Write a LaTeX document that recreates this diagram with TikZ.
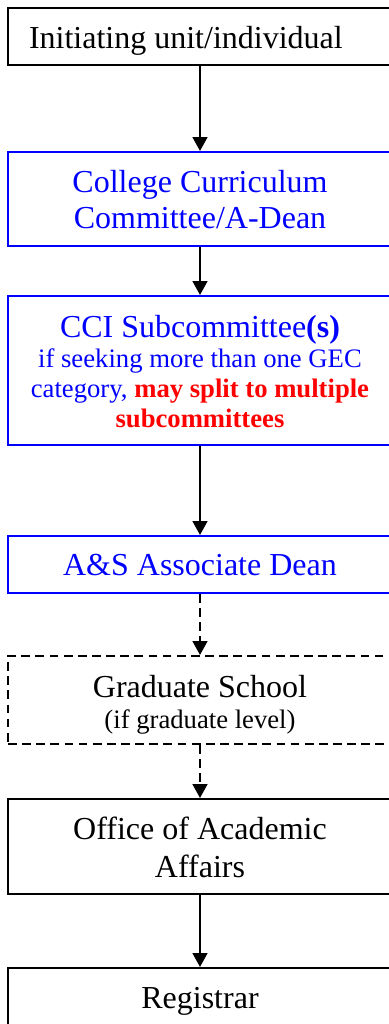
\documentclass[tikz,border=0pt]{standalone}
\usepackage{fontspec}
\setmainfont{Liberation Serif}
\usetikzlibrary{arrows.meta}

\begin{document}
\begin{tikzpicture}[x=0.375pt, y=-0.375pt, line width=0.75pt,
	>={Triangle[width=5.6pt,length=5.25pt]},
	stage/.style={draw, rectangle, inner sep=0pt, minimum width=144pt},
	blustage/.style={stage, draw=blue},
	optstage/.style={stage, dash pattern=on 3.3pt off 2pt},
	txt/.style={inner sep=0pt, align=center, font=\fontsize{12}{13.5}\selectfont},
	small/.style={font=\fontsize{10}{11.25}\selectfont}]

\def\midx{200}

% \stage{name}{top}{bottom}{style}
\newcommand*{\stage}[4]{
	\node [#4, minimum height={(#3-#2)*0.375pt}] (#1) at (\midx, {(#2+#3)/2}) {};
}

\useasboundingbox (0,0) rectangle (388,1024);

	\stage{init}{8}{65}{stage}
	\stage{ccc}{152}{246}{blustage}
	\stage{cci}{296}{445}{blustage}
	\stage{asd}{536}{593}{blustage}
	\stage{grad}{656}{744}{optstage}
	\stage{oaa}{799}{894}{stage}
	\stage{reg}{968}{1025}{stage}

	% text nodes sit on the baseline of their last line
	\node [txt, anchor=base west] (initt) at (28,48) {Initiating unit/individual};
	\node [txt, anchor=base, text=blue] (ccct) at (\midx,228) {College Curriculum\\Committee/A-Dean};
	\node [txt, small, anchor=base, text=blue] (ccit) at (\midx,427)
		{{\fontsize{12}{13.5}\selectfont CCI Subcommittee\textbf{(s)}}\\
		if seeking more than one GEC\\
		category, \textcolor{red}{\textbf{may split to multiple}}\\
		\textcolor{red}{\textbf{subcommittees}}};
	\node [txt, anchor=base, text=blue] (asdt) at (\midx,575) {A\&S Associate Dean};
	\node [txt, anchor=base, font=\fontsize{12}{11.6}\selectfont] (gradt) at (\midx,728)
		{Graduate School\\{\fontsize{10}{11.6}\selectfont (if graduate level)}};
	\node [txt, anchor=base, font=\fontsize{12}{13.9}\selectfont] (oaat) at (\midx,877) {Office of Academic\\Affairs};
	\node [txt, anchor=base] (regt) at (\midx,1008) {Registrar};

	\draw [->] (init) -- (ccc);
	\draw [->] (ccc) -- (cci);
	\draw [->] (cci) -- (asd);
	\draw [->, dash pattern=on 3.3pt off 2pt] (asd) -- (grad);
	\draw [->, dash pattern=on 3.3pt off 2pt] (grad) -- (oaa);
	\draw [->] (oaa) -- (reg);

\end{tikzpicture}
\end{document}
